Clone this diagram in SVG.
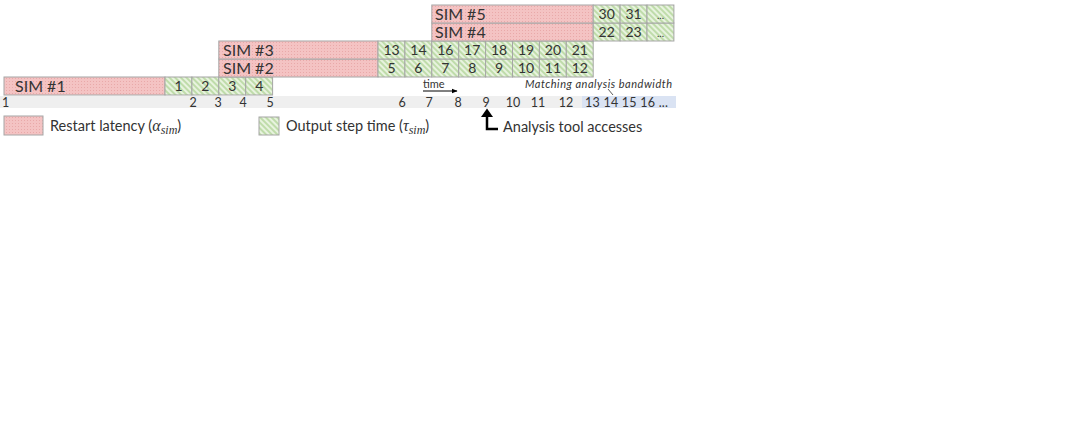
<svg xmlns="http://www.w3.org/2000/svg" width="1070" height="428" viewBox="0 0 1070 428">
<defs>
<pattern id="pink" width="3" height="3" patternUnits="userSpaceOnUse">
<rect width="3" height="3" fill="#f4c3c3"/>
<rect width="1" height="1" fill="#e9a9a9"/>
</pattern>
<pattern id="green" width="4" height="4" patternUnits="userSpaceOnUse" patternTransform="rotate(-45)">
<rect width="4" height="4" fill="#e8f3df"/>
<line x1="1" y1="0" x2="1" y2="4" stroke="#a9d08e" stroke-width="1.3"/>
</pattern>
<marker id="ah" viewBox="0 0 10 10" refX="9" refY="5" markerWidth="6" markerHeight="6" orient="auto">
<path d="M0,1 L10,5 L0,9 z" fill="#000"/>
</marker>
</defs>
<style>
.sim{fill:url(#pink);stroke:#a6a6a6;stroke-width:1}
.out{fill:url(#green);stroke:#a6a6a6;stroke-width:1}
.lab{font-family:Lato,"Liberation Sans",sans-serif;font-size:16px;fill:#333}
.num{font-family:Lato,"Liberation Sans",sans-serif;font-size:14px;fill:#333;text-anchor:middle}
.ax{font-family:Lato,"Liberation Sans",sans-serif;font-size:12.5px;fill:#333;text-anchor:middle}
.leg{font-family:Lato,"Liberation Sans",sans-serif;font-size:14.5px;fill:#333}
.m{font-family:"Liberation Serif",serif;font-style:italic}
</style>
<rect width="1070" height="428" fill="#fff"/>

<g id="axis">
<rect x="0" y="96" width="582" height="12" fill="#efefef"/>
<rect x="582" y="96" width="94" height="12" fill="#dae3f3"/>
<text class="ax" x="2" y="106.5" style="text-anchor:start">1</text>
<text class="ax" x="193" y="106.5">2</text>
<text class="ax" x="218" y="106.5">3</text>
<text class="ax" x="243" y="106.5">4</text>
<text class="ax" x="270" y="106.5">5</text>
<text class="ax" x="402" y="106.5">6</text>
<text class="ax" x="429" y="106.5">7</text>
<text class="ax" x="458" y="106.5">8</text>
<text class="ax" x="486" y="106.5">9</text>
<text class="ax" x="513" y="106.5">10</text>
<text class="ax" x="538" y="106.5">11</text>
<text class="ax" x="566" y="106.5">12</text>
<text class="ax" x="585" y="106.5" style="text-anchor:start" textLength="83">13 14 15 16 ...</text>
</g>

<g id="sim1">
<rect class="sim" x="4" y="77" width="161" height="18"/>
<text class="lab" x="15" y="92">SIM #1</text>
</g>
<g id="sim1-out">
<rect class="out" x="165" y="77" width="26.9" height="18"/><text class="num" x="178.5" y="91">1</text>
<rect class="out" x="191.9" y="77" width="26.9" height="18"/><text class="num" x="205.4" y="91">2</text>
<rect class="out" x="218.8" y="77" width="26.9" height="18"/><text class="num" x="232.3" y="91">3</text>
<rect class="out" x="245.7" y="77" width="26.9" height="18"/><text class="num" x="259.2" y="91">4</text>
</g>

<g id="sim2">
<rect class="sim" x="218.8" y="59" width="159.2" height="18"/>
<text class="lab" x="223" y="74">SIM #2</text>
</g>
<g id="sim3">
<rect class="sim" x="218.8" y="41" width="159.2" height="18"/>
<text class="lab" x="223" y="56">SIM #3</text>
</g>
<g id="sim2-out">
<rect class="out" x="378" y="59" width="26.9" height="18"/><text class="num" x="391.5" y="73">5</text>
<rect class="out" x="404.9" y="59" width="26.9" height="18"/><text class="num" x="418.4" y="73">6</text>
<rect class="out" x="431.8" y="59" width="26.9" height="18"/><text class="num" x="445.3" y="73">7</text>
<rect class="out" x="458.7" y="59" width="26.9" height="18"/><text class="num" x="472.2" y="73">8</text>
<rect class="out" x="485.6" y="59" width="26.9" height="18"/><text class="num" x="499.1" y="73">9</text>
<rect class="out" x="512.5" y="59" width="26.9" height="18"/><text class="num" x="526" y="73">10</text>
<rect class="out" x="539.4" y="59" width="26.9" height="18"/><text class="num" x="552.9" y="73">11</text>
<rect class="out" x="566.3" y="59" width="26.9" height="18"/><text class="num" x="579.8" y="73">12</text>
</g>
<g id="sim3-out">
<rect class="out" x="378" y="41" width="26.9" height="18"/><text class="num" x="391.5" y="55">13</text>
<rect class="out" x="404.9" y="41" width="26.9" height="18"/><text class="num" x="418.4" y="55">14</text>
<rect class="out" x="431.8" y="41" width="26.9" height="18"/><text class="num" x="445.3" y="55">16</text>
<rect class="out" x="458.7" y="41" width="26.9" height="18"/><text class="num" x="472.2" y="55">17</text>
<rect class="out" x="485.6" y="41" width="26.9" height="18"/><text class="num" x="499.1" y="55">18</text>
<rect class="out" x="512.5" y="41" width="26.9" height="18"/><text class="num" x="526" y="55">19</text>
<rect class="out" x="539.4" y="41" width="26.9" height="18"/><text class="num" x="552.9" y="55">20</text>
<rect class="out" x="566.3" y="41" width="26.9" height="18"/><text class="num" x="579.8" y="55">21</text>
</g>

<g id="sim4">
<rect class="sim" x="431.8" y="23" width="161.4" height="18"/>
<text class="lab" x="435" y="38">SIM #4</text>
</g>
<g id="sim5">
<rect class="sim" x="431.8" y="5" width="161.4" height="18"/>
<text class="lab" x="435" y="20">SIM #5</text>
</g>
<g id="sim4-out">
<rect class="out" x="593.2" y="23" width="26.9" height="18"/><text class="num" x="606.7" y="37">22</text>
<rect class="out" x="620.1" y="23" width="26.9" height="18"/><text class="num" x="633.6" y="37">23</text>
<rect class="out" x="647" y="23" width="26.9" height="18"/><text class="num" x="660.5" y="37" style="font-size:10px">...</text>
</g>
<g id="sim5-out">
<rect class="out" x="593.2" y="5" width="26.9" height="18"/><text class="num" x="606.7" y="19">30</text>
<rect class="out" x="620.1" y="5" width="26.9" height="18"/><text class="num" x="633.6" y="19">31</text>
<rect class="out" x="647" y="5" width="26.9" height="18"/><text class="num" x="660.5" y="19" style="font-size:10px">...</text>
</g>

<g id="legend">
<rect class="sim" x="4" y="116" width="39" height="19"/>
<text class="leg" x="50" y="131">Restart latency (<tspan class="m" font-size="16">α</tspan><tspan class="m" font-size="12" dy="3">sim</tspan><tspan dy="-3">)</tspan></text>
<rect class="out" x="259" y="117" width="20" height="18"/>
<text class="leg" x="286" y="131">Output step time (<tspan class="m" font-size="16">τ</tspan><tspan class="m" font-size="12" dy="3">sim</tspan><tspan dy="-3">)</tspan></text>
<text class="leg" x="503" y="132">Analysis tool accesses</text>
<text x="423" y="88" style="font-family:Lato,'Liberation Sans',sans-serif;font-size:11px;fill:#333">time</text>
<text x="525" y="88" textLength="147" style="font-family:Lato,'Liberation Sans',sans-serif;font-size:11px;font-style:italic;fill:#333">Matching analysis bandwidth</text>
</g>

<g id="connectors">
<line x1="423" y1="91" x2="457" y2="91" stroke="#000" stroke-width="1" marker-end="url(#ah)"/>
<path d="M498,129 L487,129 L487,116" fill="none" stroke="#000" stroke-width="2.5"/>
<path d="M481,117 L487,108.5 L493,117 z" fill="#000"/>
<line x1="608" y1="89" x2="613" y2="95" stroke="#333" stroke-width="0.8"/>
</g>
</svg>
